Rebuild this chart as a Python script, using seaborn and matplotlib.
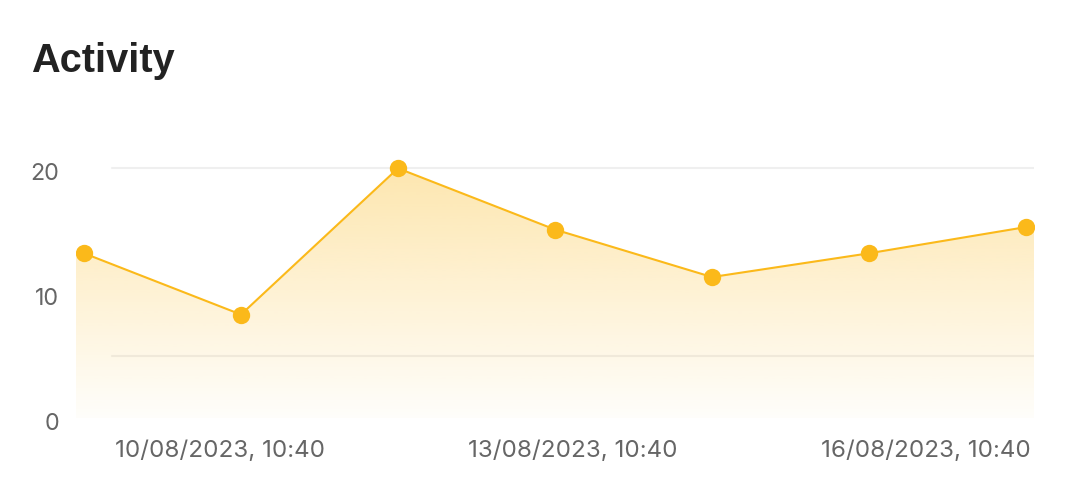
import numpy as np
import pandas as pd
import matplotlib
matplotlib.use("Agg")
from matplotlib import pyplot as plt
from matplotlib import dates as mdates
from matplotlib import transforms
from matplotlib.colors import to_rgb
import seaborn as sns

# data
times = pd.to_datetime([
    "2023-08-09 07:00", "2023-08-10 15:00", "2023-08-11 23:00",
    "2023-08-13 07:00", "2023-08-14 15:00", "2023-08-15 23:00",
    "2023-08-17 07:00",
])
activity = [13.2, 8.3, 20.0, 15.1, 11.3, 13.2, 15.3]
tick_times = pd.to_datetime(["2023-08-10 10:40", "2023-08-13 10:40", "2023-08-16 10:40"])
tick_labels = [t.strftime("%d/%m/%Y, %H:%M") for t in tick_times]
y_ticks = [0, 10, 20]
grid_values = [5, 20]

LINE = "#FBB91A"
TICK = "#666666"

sns.set_style("white")
plt.rcParams["font.family"] = ["Inter", "DejaVu Sans"]

W, H = 1067, 496
fig = plt.figure(figsize=(W / 100, H / 100), dpi=100)
ax = fig.add_axes([76 / W, (H - 418.3) / H, (1034 - 76) / W, (418.3 - 140) / H])

pad = pd.Timedelta(hours=1.63)
xmin, xmax = times[0] - pad, times[-1] + pad
ytop = (418.3 - 140) / 12.5

# grid lines (only two in the reference)
for g in grid_values:
    ax.axhline(g, xmin=(112 - 76) / (1034 - 76), xmax=1, color="#EFEFEF", lw=1.5, zorder=1)

# gradient area under the line
fx = [xmin] + list(times) + [xmax]
fy = [activity[0]] + activity + [activity[-1]]
poly = ax.fill_between(fx, fy, 0, color="none", lw=0, zorder=2)
rgb = to_rgb(LINE)
vals = np.linspace(0, ytop, 256)
alpha = np.clip(0.02 + 0.0165 * vals, 0, 1)
grad = np.zeros((256, 1, 4))
grad[:, 0, :3] = rgb
grad[:, 0, 3] = alpha
img = ax.imshow(grad, extent=[mdates.date2num(xmin), mdates.date2num(xmax), 0, ytop],
                aspect="auto", origin="lower", zorder=2, interpolation="bilinear")
img.set_clip_path(poly.get_paths()[0], transform=ax.transData)

sns.lineplot(x=times, y=activity, ax=ax, color=LINE, lw=1.5, marker="o",
             markersize=12.5, markeredgewidth=0, zorder=3)

ax.set_xlim(xmin, xmax)
ax.set_ylim(0, ytop)
ax.set_xticks(tick_times)
ax.set_xticklabels(tick_labels)
ax.set_yticks(y_ticks)
ax.set_xlabel("")
ax.set_ylabel("")
ax.tick_params(axis="both", length=0, colors=TICK)
ax.tick_params(axis="x", pad=15.5, labelsize=17.4)
ax.tick_params(axis="y", pad=12, labelsize=16.8)
for lab in ax.get_yticklabels():
    lab.set_transform(lab.get_transform() + transforms.ScaledTranslation(0, -3.5 / 100, fig.dpi_scale_trans))
sns.despine(ax=ax, left=True, bottom=True)

fig.text(31.5 / W, 1 - 72 / H, "Activity", fontsize=28.6, fontweight="bold",
         family=["Liberation Sans", "DejaVu Sans"], color="#222222", va="baseline")

fig.savefig("out.png", dpi=100)
